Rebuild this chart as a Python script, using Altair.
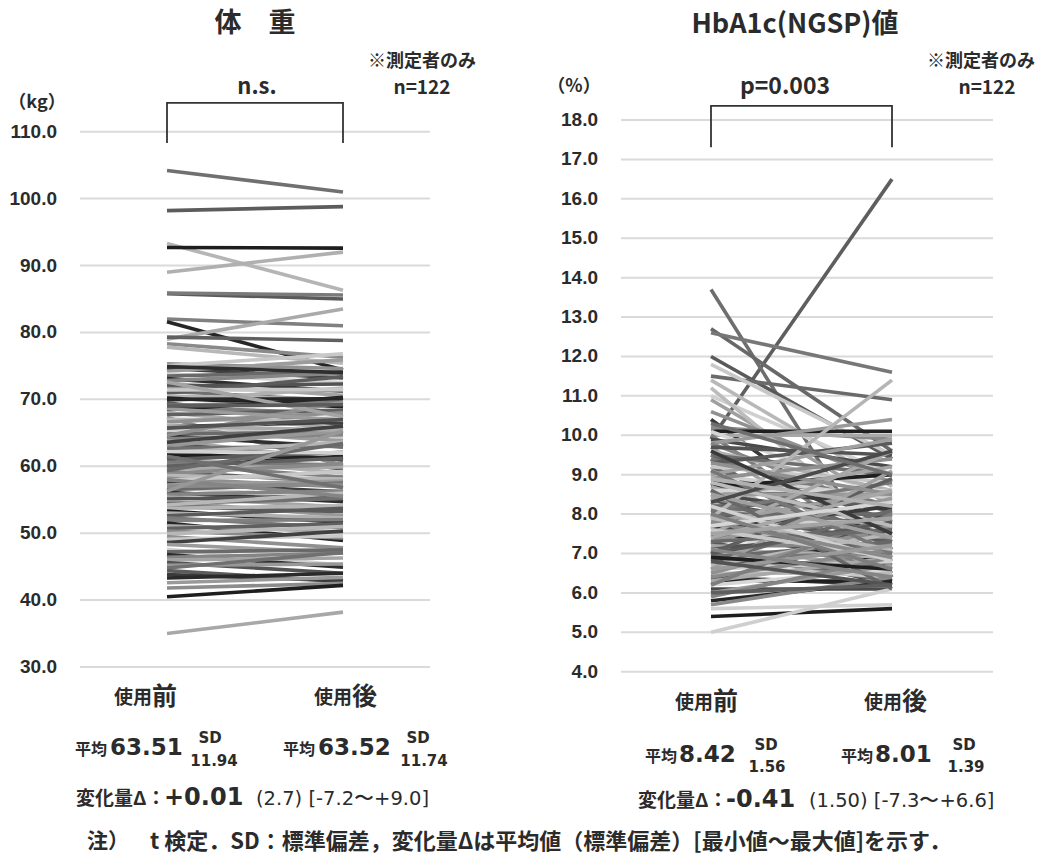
import altair as alt
import pandas as pd

# ---------------- data ----------------
weight_before = [
    104.2, 98.2, 93.3, 92.7, 89.0, 85.8, 85.9, 82.0, 81.6, 79.0,
    79.3, 78.3, 77.8, 75.3, 75.0, 74.6, 74.2, 73.8, 73.5, 73.1,
    72.8, 72.4, 72.0, 71.6, 71.2, 70.9, 70.5, 70.2, 69.8, 69.5,
    69.1, 68.8, 68.4, 68.0, 67.7, 67.3, 67.0, 66.6, 66.2, 65.9,
    65.5, 65.2, 64.8, 64.5, 64.1, 63.8, 63.4, 63.1, 62.7, 62.4,
    62.0, 61.7, 61.3, 61.0, 60.6, 60.3, 59.9, 59.6, 59.2, 58.9,
    58.6, 58.2, 57.9, 57.5, 57.2, 56.8, 56.5, 56.1, 55.8, 55.4,
    55.1, 54.7, 54.4, 54.0, 53.7, 53.3, 53.0, 52.6, 52.3, 51.9,
    51.5, 51.1, 50.7, 50.3, 49.9, 49.5, 49.1, 48.6, 48.3, 47.6,
    47.2, 46.8, 46.4, 46.0, 45.6, 45.2, 44.8, 44.4, 43.8, 43.3,
    42.6, 41.8, 40.5, 35.0, 70.0, 66.0, 60.0, 57.0, 54.2, 64.6,
    71.4, 63.6, 68.6, 62.2, 59.4, 74.9, 58.0, 72.6, 65.7, 56.3,
    61.5, 69.0,
]
weight_after = [
    101.0, 98.8, 86.3, 92.6, 92.0, 85.0, 85.6, 81.0, 74.4, 83.5,
    78.8, 76.3, 75.4, 74.6, 76.8, 73.2, 75.9, 72.5, 74.1, 71.2,
    73.9, 70.6, 72.3, 71.3, 69.8, 73.4, 70.0, 68.9, 71.7, 66.2,
    69.6, 67.9, 70.3, 65.6, 68.4, 60.1, 66.8, 68.0, 64.3, 66.6,
    63.8, 67.4, 65.1, 62.9, 64.7, 61.0, 60.9, 65.3, 63.0, 59.6,
    63.6, 61.2, 59.0, 62.1, 60.2, 58.4, 61.5, 59.9, 57.6, 60.4,
    58.1, 56.9, 59.2, 56.2, 57.8, 55.3, 57.5, 54.7, 56.3, 53.9,
    55.6, 52.6, 55.2, 53.2, 54.1, 51.6, 52.3, 53.7, 50.8, 52.0,
    48.9, 50.2, 51.4, 49.3, 51.0, 47.8, 49.6, 50.3, 47.1, 45.2,
    47.5, 44.9, 47.0, 46.3, 44.0, 45.4, 47.1, 42.8, 42.9, 44.0,
    43.4, 42.5, 42.2, 38.2, 70.1, 65.4, 61.2, 57.3, 56.0, 69.6,
    71.5, 66.0, 66.9, 62.0, 63.4, 74.0, 55.5, 67.4, 67.0, 65.3,
    56.8, 69.2,
]
hba_before = [
    9.9, 13.7, 12.7, 12.6, 12.0, 11.5, 11.8, 11.4, 11.0, 10.9,
    11.2, 10.6, 10.4, 10.2, 10.1, 10.0, 10.1, 10.0, 9.9, 9.8,
    9.8, 9.7, 9.7, 9.6, 9.5, 9.5, 9.4, 9.4, 9.3, 9.2,
    9.2, 9.1, 9.0, 9.0, 8.9, 8.9, 8.8, 8.8, 8.7, 8.7,
    8.6, 8.6, 8.5, 8.5, 8.4, 8.4, 8.3, 8.3, 8.2, 8.2,
    8.1, 8.1, 8.0, 8.0, 7.9, 7.9, 7.8, 7.8, 7.7, 7.7,
    7.6, 7.6, 7.5, 7.5, 7.4, 7.4, 7.3, 7.3, 7.2, 7.2,
    7.1, 7.1, 7.0, 7.0, 6.9, 6.9, 6.8, 6.8, 6.7, 6.7,
    6.6, 6.6, 6.5, 6.5, 6.4, 6.4, 6.3, 6.3, 6.2, 6.2,
    6.1, 6.0, 5.9, 5.8, 5.7, 5.6, 5.4, 5.0, 8.6, 9.1,
    7.0, 7.3, 7.6, 7.9, 8.2, 8.5, 8.8, 9.3, 9.6, 7.8,
    6.9, 7.4, 7.7, 8.0, 8.3, 6.6, 7.1, 7.5, 6.8, 8.9,
    6.0, 10.3,
]
hba_after = [
    16.5, 6.4, 9.6, 11.6, 9.4, 10.9, 9.5, 8.7, 9.0, 8.2,
    7.4, 8.8, 7.1, 9.9, 10.1, 10.0, 8.4, 6.9, 9.2, 10.4,
    8.0, 6.7, 9.5, 8.6, 7.8, 9.0, 6.5, 8.2, 9.8, 7.3,
    8.8, 6.2, 8.4, 9.9, 7.6, 9.4, 8.1, 6.8, 9.0, 7.2,
    8.6, 6.3, 7.9, 8.5, 7.0, 9.2, 7.5, 6.6, 8.3, 7.7,
    6.9, 8.8, 7.3, 8.0, 11.4, 6.4, 7.8, 8.6, 7.1, 6.5,
    8.2, 7.4, 6.8, 9.6, 7.0, 7.9, 6.2, 8.4, 7.2, 6.6,
    7.6, 6.9, 8.9, 6.3, 7.3, 7.0, 6.7, 8.1, 6.4, 7.5,
    6.8, 9.1, 6.5, 7.7, 6.2, 7.1, 6.3, 6.9, 6.6, 8.0,
    6.1, 6.7, 6.9, 6.3, 6.4, 5.7, 5.6, 6.1, 6.1, 7.0,
    7.8, 7.6, 6.9, 7.1, 6.8, 7.4, 7.7, 8.5, 7.5, 6.9,
    6.6, 8.6, 8.3, 6.6, 9.6, 7.2, 6.4, 7.9, 6.2, 8.2,
    6.2, 9.0,
]
weight_ticks = [30, 40, 50, 60, 70, 80, 90, 100, 110]
hba_ticks = [4, 5, 6, 7, 8, 9, 10, 11, 12, 13, 14, 15, 16, 17, 18]
bracket_t = [0, 0, 1, 1]
weight_bracket = [108.3, 114.3, 114.3, 108.3]
hba_bracket = [17.31, 18.36, 18.36, 17.31]

# ---------------- styles ----------------
weight_palette = ["#707070", "#5c5c5c", "#b5b5b5", "#1e1e1e", "#b0b0b0", "#5a5a5a",
                  "#7a7a7a", "#808080", "#262626", "#aaaaaa", "#606060", "#8a8a8a",
                  "#b8b8b8", "#909090", "#c8c8c8", "#404040", "#9c9c9c", "#d2d2d2",
                  "#6a6a6a", "#2e2e2e", "#858585", "#a4a4a4", "#535353", "#989898"]
weight_shade_override = {99: "#2a2a2a", 100: "#9a9a9a", 101: "#8c8c8c", 102: "#1e1e1e",
                         103: "#a8a8a8", 98: "#3a3a3a"}
hba_palette = ["#5e5e5e", "#6e6e6e", "#686868", "#777777", "#5a5a5a", "#6a6a6a",
               "#c8c8c8", "#b8b8b8", "#d0d0d0", "#a0a0a0", "#bbbbbb", "#909090",
               "#3a3a3a", "#8a8a8a", "#1f1f1f", "#a8a8a8", "#d6d6d6", "#7e7e7e",
               "#4a4a4a", "#9a9a9a", "#858585", "#a4a4a4", "#535353", "#b0b0b0"]
hba_shade_override = {93: "#262626", 94: "#8a8a8a", 95: "#d0d0d0", 96: "#1e1e1e",
                      97: "#cfcfcf", 54: "#b5b5b5"}
CJK = "Noto Sans CJK JP"
NUM = "DejaVu Sans"
TICK = "Liberation Sans"
TXT = "#2b2b2b"
GRID = "#dadada"
H = 860


def long_df(before, after, palette, override, prefix):
    rows = []
    for i, (b, a) in enumerate(zip(before, after)):
        shade = override.get(i, palette[i % len(palette)])
        rows.append({"id": f"{prefix}{i:03d}", "t": 0, "v": b, "shade": shade})
        rows.append({"id": f"{prefix}{i:03d}", "t": 1, "v": a, "shade": shade})
    return pd.DataFrame(rows)


def txt(text, x, y, size, font=CJK, weight="bold", align="center", baseline="middle"):
    return alt.Chart(pd.DataFrame({"s": [text]})).mark_text(
        font=font, fontSize=size, fontWeight=weight, align=align,
        baseline=baseline, color=TXT
    ).encode(x=alt.value(x), y=alt.value(y), text="s:N")


def panel(before, after, ticks, bracket_v, palette, override, xr, yd, yr, gx, tick_x, prefix, width, extra):
    xs = alt.Scale(domain=[0, 1], range=xr)
    ys = alt.Scale(domain=yd, range=yr, nice=False, zero=False)
    tdf = pd.DataFrame({"v": ticks, "lab": [f"{t:.1f}" for t in ticks]})
    grid = alt.Chart(tdf).mark_rule(color=GRID, strokeWidth=2).encode(
        y=alt.Y("v:Q", scale=ys, axis=None), x=alt.value(gx[0]), x2=alt.value(gx[1]))
    labels = alt.Chart(tdf).mark_text(
        font=TICK, fontSize=19, fontWeight="bold", align="right", baseline="middle", color=TXT
    ).encode(y=alt.Y("v:Q", scale=ys, axis=None), x=alt.value(tick_x), text="lab:N")
    lines = alt.Chart(long_df(before, after, palette, override, prefix)).mark_line(strokeWidth=3.6).encode(
        x=alt.X("t:Q", scale=xs, axis=None),
        y=alt.Y("v:Q", scale=ys, axis=None),
        color=alt.Color("shade:N", scale=None),
        detail="id:N",
    )
    bdf = pd.DataFrame({"t": bracket_t, "v": bracket_v, "k": [0, 1, 2, 3]})
    bracket = alt.Chart(bdf).mark_line(color="#333333", strokeWidth=1.8).encode(
        x=alt.X("t:Q", scale=xs, axis=None), y=alt.Y("v:Q", scale=ys, axis=None),
        order="k:Q")
    return alt.layer(grid, labels, lines, bracket, *extra).properties(width=width, height=H)


left_extra = [
    txt("体　重", 255, 24, 27),
    txt("※測定者のみ", 422, 62, 18),
    txt("n=122", 422, 88, 19),
    txt("n.s.", 257, 87, 22),
    txt("（kg）", 37, 103, 18),
    txt("使用", 152, 704, 19, align="right", baseline="alphabetic"),
    txt("前", 152, 705, 25, align="left", baseline="alphabetic"),
    txt("使用", 352, 704, 19, align="right", baseline="alphabetic"),
    txt("後", 352, 705, 25, align="left", baseline="alphabetic"),
    txt("平均", 75, 750, 16, align="left"),
    txt("63.51", 110, 748, 23, font=NUM, align="left"),
    txt("SD", 210, 738, 15, font=NUM),
    txt("11.94", 214, 761, 15, font=NUM),
    txt("平均", 283, 750, 16, align="left"),
    txt("63.52", 318, 748, 23, font=NUM, align="left"),
    txt("SD", 418, 738, 15, font=NUM),
    txt("11.74", 424, 761, 15, font=NUM),
    txt("変化量Δ：", 76, 799, 19, align="left"),
    txt("+0.01", 164, 798, 24, font=NUM, align="left"),
    txt("(2.7) [-7.2〜+9.0]", 256, 799, 19.5, font=NUM, weight="normal", align="left"),
    txt("注）", 87, 842, 21, align="left"),
    txt("t 検定．SD：標準偏差，変化量Δは平均値（標準偏差）[最小値〜最大値]を示す．", 150, 842, 22, align="left"),
]

right_extra = [
    txt("HbA1c(NGSP)値", 269, 25, 27),
    txt("※測定者のみ", 455, 62, 18),
    txt("n=122", 461, 88, 19),
    txt("p=0.003", 259, 87, 23),
    txt("（%）", 48, 87, 18),
    txt("使用", 187, 709, 19, align="right", baseline="alphabetic"),
    txt("前", 187, 710, 25, align="left", baseline="alphabetic"),
    txt("使用", 376, 709, 19, align="right", baseline="alphabetic"),
    txt("後", 376, 710, 25, align="left", baseline="alphabetic"),
    txt("平均", 119, 757, 16, align="left"),
    txt("8.42", 153, 755, 23, font=NUM, align="left"),
    txt("SD", 240, 745, 15, font=NUM),
    txt("1.56", 241, 767, 15, font=NUM),
    txt("平均", 315, 757, 16, align="left"),
    txt("8.01", 349, 755, 23, font=NUM, align="left"),
    txt("SD", 438, 745, 15, font=NUM),
    txt("1.39", 440, 767, 15, font=NUM),
    txt("変化量Δ：", 112, 801, 19, align="left"),
    txt("-0.41", 200, 800, 24, font=NUM, align="left"),
    txt("(1.50) [-7.3〜+6.6]", 283, 801, 19.5, font=NUM, weight="normal", align="left"),
]

left = panel(weight_before, weight_after, weight_ticks, weight_bracket, weight_palette,
             weight_shade_override, [167, 343], [30, 110], [667, 131.7], [80, 430], 57, "w", 526, left_extra)
right = panel(hba_before, hba_after, hba_ticks, hba_bracket, hba_palette,
              hba_shade_override, [185, 366], [4, 18], [671.7, 120], [95, 467], 72, "h", 527, right_extra)

chart = alt.hconcat(left, right, spacing=0, bounds="flush").properties(
    padding=0, background="white"
).configure_view(stroke=None)

chart.save("out.html", embed_options={"renderer": "svg", "actions": False})
